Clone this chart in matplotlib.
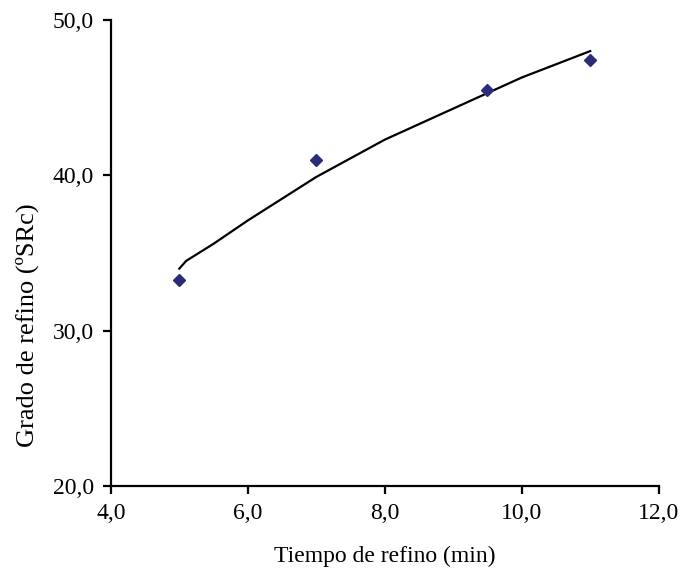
import matplotlib
matplotlib.use("Agg")
import matplotlib.pyplot as plt

# Datos medidos
tiempo = [5.0, 7.0, 9.5, 11.0]
grado = [33.3, 41.0, 45.5, 47.4]

# Línea de tendencia
tend_x = [5.0, 5.1, 5.5, 6.0, 7.0, 8.0, 9.0, 9.5, 10.0, 11.0]
tend_y = [34.0, 34.5, 35.6, 37.1, 39.9, 42.3, 44.3, 45.3, 46.3, 48.0]

xticks = [4.0, 6.0, 8.0, 10.0, 12.0]
yticks = [20.0, 30.0, 40.0, 50.0]

plt.rcParams['font.family'] = ['Liberation Serif', 'DejaVu Serif']

fig = plt.figure(figsize=(6.84, 5.72), dpi=100)
ax = fig.add_axes([0.162, 0.150, 0.801, 0.815])

ax.plot(tend_x, tend_y, color='black', linewidth=1.6)
ax.plot(tiempo, grado, linestyle='none', marker='D', markersize=6.5,
        color='#2b2b7a')

ax.set_xlim(4, 12)
ax.set_ylim(20, 50)
ax.set_xticks(xticks)
ax.set_yticks(yticks)
ax.set_xticklabels([f"{v:.1f}".replace('.', ',') for v in xticks])
ax.set_yticklabels([f"{v:.1f}".replace('.', ',') for v in yticks])

for s in ['top', 'right']:
    ax.spines[s].set_visible(False)
for s in ['left', 'bottom']:
    ax.spines[s].set_linewidth(1.6)
ax.tick_params(direction='out', length=6, width=1.6, labelsize=17, pad=6)

ax.set_xlabel('Tiempo de refino (min)', fontsize=17, labelpad=16)
ax.set_ylabel('Grado de refino (ºSRc)', fontsize=19, labelpad=10)
ax.yaxis.label.set_y(0.345)

plt.savefig("out.png", dpi=100)
